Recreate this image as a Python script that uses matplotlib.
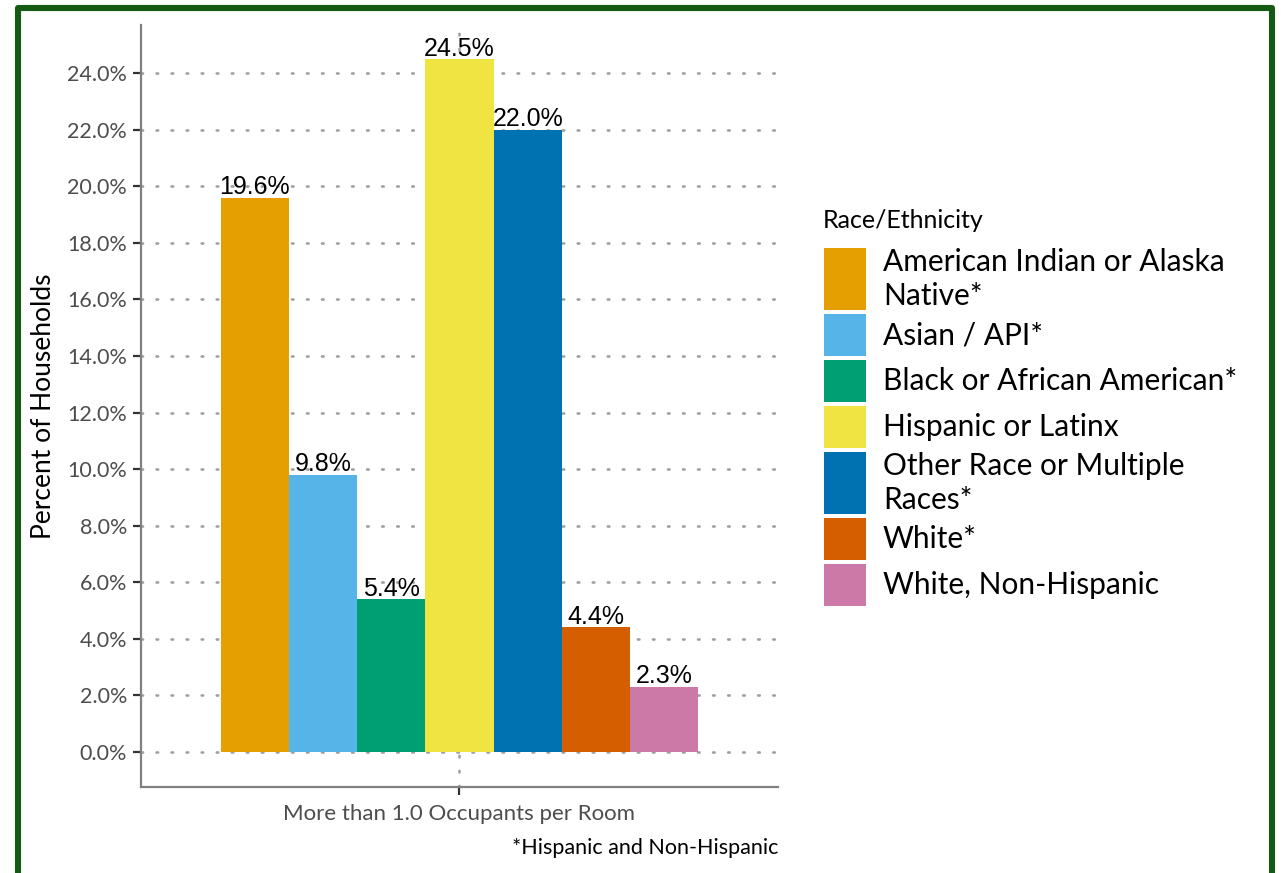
import numpy as np
import matplotlib.pyplot as plt
from matplotlib.patches import Rectangle

# data
groups = [
    'American Indian or Alaska\nNative*',
    'Asian / API*',
    'Black or African American*',
    'Hispanic or Latinx',
    'Other Race or Multiple\nRaces*',
    'White*',
    'White, Non-Hispanic',
]
values = [19.6, 9.8, 5.4, 24.5, 22.0, 4.4, 2.3]
colors = ['#E69F00', '#56B4E9', '#009E73', '#F0E442', '#0072B2', '#D55E00', '#CC79A7']
category = 'More than 1.0 Occupants per Room'
y_ticks = np.arange(0, 25, 2)

W, H = 1281, 873
GILL = 'Lato'
GREY_TXT = '#4d4d4d'


def fx(x):
    return x / W


def fy(y):
    return 1 - y / H


fig = plt.figure(figsize=(W / 100, H / 100), dpi=100)
ax = fig.add_axes([fx(141), fy(787), (778 - 141) / W, (787 - 25) / H])

# dodged bars around the single category
n = len(values)
bw = 0.9 / n
xs = 1 - 0.45 + bw * (np.arange(n) + 0.5)
ax.bar(xs, values, width=bw, color=colors, zorder=2)

for x, v in zip(xs, values):
    ax.text(x, v + 0.12, f'{v:.1f}%', ha='center', va='baseline',
            fontsize=18, family='Liberation Sans', color='black', zorder=3)

ax.set_xlim(0.4, 1.6)
ax.set_ylim(-1.24, 25.7)
ax.set_xticks([1])
ax.set_xticklabels([category], fontsize=16, family=GILL, color=GREY_TXT)
ax.set_yticks(y_ticks)
ax.set_yticklabels([f'{t:.1f}%' for t in y_ticks], fontsize=15.5, family=GILL, color=GREY_TXT)
ax.tick_params(axis='both', length=6, width=1.6, color='#333333', pad=4)
ax.tick_params(axis='x', pad=6)

ax.grid(True, color='#a0a0a0', linewidth=1.9, linestyle=(0, (0.6, 5.1)),
        dash_capstyle='round', zorder=0)
ax.set_axisbelow(True)

for s in ['top', 'right']:
    ax.spines[s].set_visible(False)
for s in ['left', 'bottom']:
    ax.spines[s].set_color('#808080')
    ax.spines[s].set_linewidth(1.6)

ax.set_ylabel('Percent of Households', fontsize=19, family=GILL, color='black', labelpad=8)

# legend, ggplot style
fig.text(fx(823), fy(220), 'Race/Ethnicity', fontsize=18, family=GILL,
         ha='left', va='center', color='black')
y = 248
for lab, col in zip(groups, colors):
    h = 62 if '\n' in lab else 42
    fig.add_artist(Rectangle((fx(824), fy(y + h)), 42 / W, h / H,
                             transform=fig.transFigure, facecolor=col,
                             edgecolor='none'))
    fig.text(fx(883), fy(y + h / 2), lab, fontsize=21.5, family=GILL,
             ha='left', va='center', linespacing=1.25, color='black')
    y += h + 4

fig.text(fx(778), fy(848), '*Hispanic and Non-Hispanic', fontsize=15.5,
         family=GILL, ha='right', va='center', color='black')

# green frame
fig.add_artist(Rectangle((fx(18), fy(960)), (1272 - 18) / W, (960 - 8) / H,
                         transform=fig.transFigure, fill=False,
                         edgecolor='#145a14', linewidth=4.4,
                         joinstyle='round'))

fig.savefig('out.png', dpi=100)
